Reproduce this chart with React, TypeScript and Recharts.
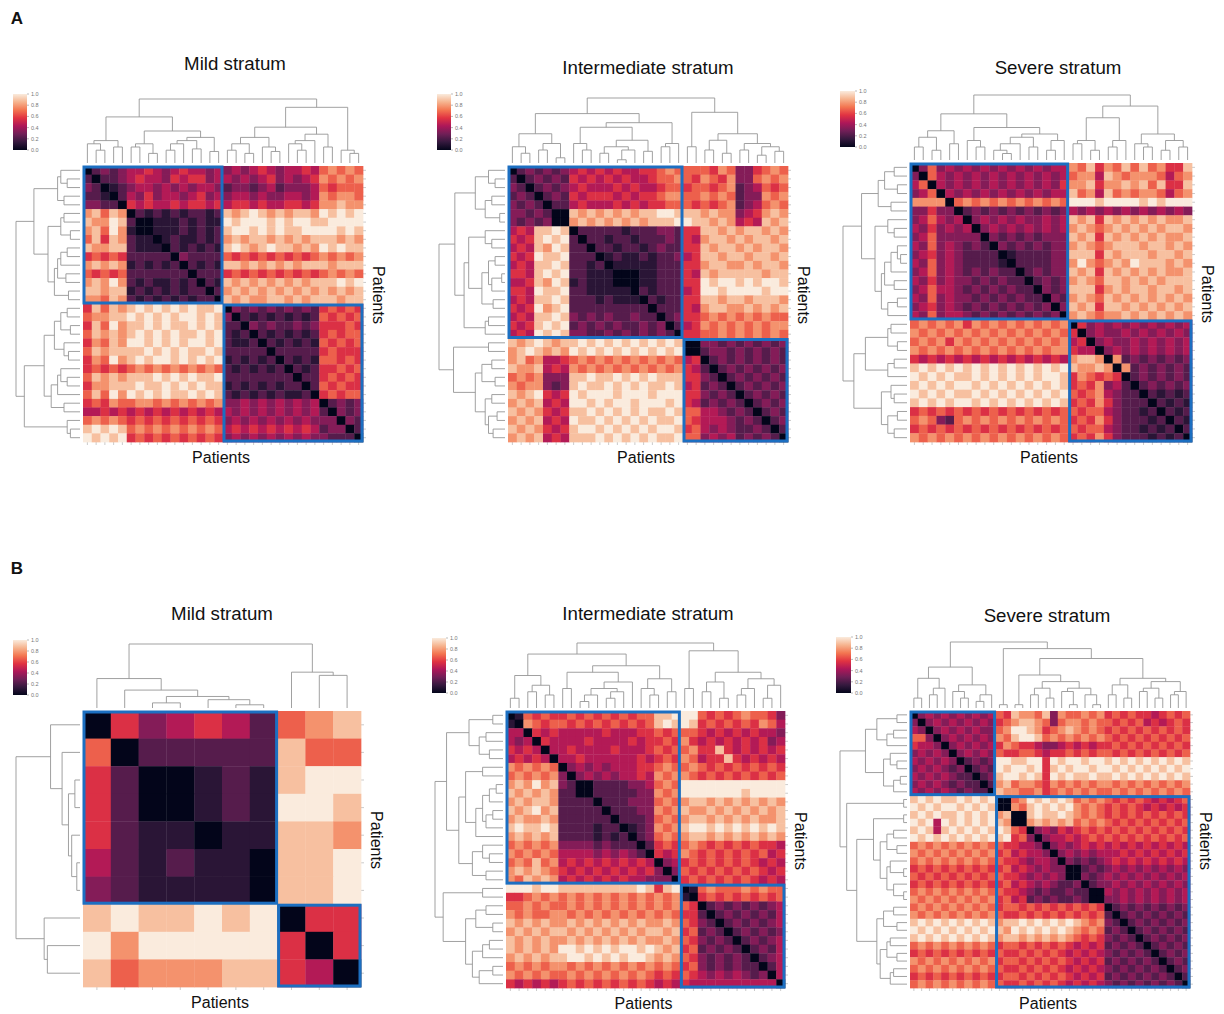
import React, { useMemo } from "react";
import { ComposedChart, Scatter, Line, XAxis, YAxis, BarChart, Bar } from "recharts";

// seaborn "rocket" colormap anchors (0 -> 1)
const ROCKET = ["#03051a", "#35193e", "#701f57", "#ad1759", "#e13342", "#f37651", "#f6b48f", "#faebdd"];
const CBAR_TICKS = [0, 0.2, 0.4, 0.6, 0.8, 1.0];

// each digit is a distance on a 0..9 scale (value = digit / 9)
const mildAMatrix = [
  "02323" + "44543454434" + "34345434454" + "67676",
  "20223" + "45443545534" + "43434534345" + "76767",
  "32012" + "34434343443" + "23323423334" + "65666",
  "22102" + "43534434534" + "34434334434" + "76776",
  "33220" + "54544545545" + "45545445545" + "77877",
  "78687" + "02121212212" + "87898787887" + "98989",
  "87798" + "20011121211" + "98999898998" + "89999",
  "78697" + "10011121212" + "89989898899" + "99898",
  "68587" + "21101211212" + "78788787878" + "88787",
  "87788" + "21110212121" + "89878988787" + "98988",
  "56565" + "22222032222" + "65656565656" + "76767",
  "78787" + "12121202121" + "88787878788" + "87888",
  "65656" + "22222220222" + "56565656565" + "67676",
  "78797" + "21211212021" + "87878787878" + "88989",
  "88788" + "12121212202" + "78787878787" + "87878",
  "77687" + "21212121220" + "87877887878" + "88788",
  "58687" + "89898989889" + "03232323232" + "56565",
  "67788" + "98989899898" + "30212121212" + "65656",
  "58697" + "88989889898" + "22032322323" + "55565",
  "68787" + "89898988989" + "21202121212" + "56566",
  "57687" + "99898989989" + "21120212121" + "65656",
  "68788" + "88989898898" + "22222022222" + "56555",
  "57697" + "89899898989" + "12121202121" + "66565",
  "56565" + "67676767676" + "21212120212" + "55656",
  "68787" + "88898989889" + "22222222022" + "56565",
  "57788" + "89889898988" + "12121212202" + "65655",
  "68697" + "98989889898" + "21212121120" + "56566",
  "56576" + "67767676767" + "33434343434" + "02323",
  "44545" + "45454545454" + "43434343434" + "20323",
  "67676" + "56565656565" + "34343434343" + "33032",
  "89898" + "67676767676" + "45454545454" + "23302",
  "98989" + "56565656565" + "34343434343" + "32220",
];
const mildAGaps = [0.3, 0.2, 0.35, 0.25, 0.72, 0.25, 0.3, 0.15, 0.5, 0.2, 0.3, 0.35, 0.22, 0.4, 0.18, 1.0,
  0.2, 0.3, 0.15, 0.4, 0.25, 0.18, 0.56, 0.3, 0.2, 0.35, 0.45, 0.25, 0.87, 0.2, 0.15];

const interAMatrix = [
  "0232323" + "4545454455676" + "66" + "6576335676",
  "2023232" + "5454545445667" + "65" + "7657336767",
  "3202323" + "4544454544566" + "56" + "6567234656",
  "2320232" + "5455545455677" + "66" + "7676233767",
  "3232022" + "4544454545566" + "65" + "6567234676",
  "3323200" + "8787878788998" + "88" + "7877345787",
  "3232300" + "7878787878889" + "98" + "8787454878",
  "4548898" + "0222221222332" + "55" + "8878788787",
  "5458989" + "2022122122232" + "54" + "7887878878",
  "4548798" + "2202212212322" + "55" + "8788787887",
  "5459889" + "2220121121223" + "45" + "8878878878",
  "4548898" + "2212011111222" + "55" + "7887787887",
  "5548989" + "2211100011222" + "54" + "8788888788",
  "4458798" + "1211100011222" + "55" + "9899898998",
  "5549889" + "2211111021222" + "45" + "9989999899",
  "4548898" + "2221211102122" + "55" + "8878878887",
  "5459789" + "2222222220222" + "54" + "7887787878",
  "4548898" + "3232322322023" + "55" + "6767676766",
  "5458989" + "2323232232302" + "45" + "7676767677",
  "4549898" + "3322323232320" + "55" + "6676767676",
  "8789878" + "8989898989898" + "00" + "3323232323",
  "7898787" + "9898989898989" + "00" + "2332323232",
  "7867445" + "6767676767676" + "45" + "0232323232",
  "8778454" + "7676767676767" + "54" + "2023232323",
  "6767333" + "8898898989888" + "55" + "3202323232",
  "7677323" + "8988989898898" + "45" + "2320232323",
  "8789545" + "9899989998999" + "55" + "3232023232",
  "7878454" + "9989899899989" + "54" + "2323202323",
  "8787545" + "8898989898898" + "66" + "4432320232",
  "7878454" + "9889898989889" + "65" + "4443232023",
  "8787545" + "8998989898998" + "56" + "4343223202",
  "7878454" + "8889898989889" + "66" + "3434232320",
];
const interAGaps = [0.25, 0.15, 0.45, 0.2, 0.3, 0.08, 0.76, 0.3, 0.2, 0.55, 0.15, 0.25, 0.05, 0.2, 0.35, 0.18,
  0.62, 0.25, 0.3, 1.0, 0.25, 0.78, 0.2, 0.35, 0.15, 0.45, 0.2, 0.3, 0.12, 0.25, 0.18];

const severeAMatrix = [
  "036343434343434344" + "76857686867558",
  "306434343434343434" + "67748767776467",
  "460434343434343435" + "77857787868558",
  "346043434343434344" + "86748676776467",
  "777706767676767676" + "99989999898999",
  "335330232323232323" + "43434343434343",
  "346434034343433434" + "87858787878778",
  "435343403434343434" + "78767878787887",
  "346333330323232333" + "87858787878778",
  "436343232032323233" + "78767888788787",
  "345343222201222233" + "88858788878878",
  "436343222210222233" + "79767879888787",
  "346343232322023233" + "87858787878778",
  "435343323232202323" + "78768878787888",
  "346443232323220323" + "88857878878878",
  "436343323232322032" + "78768787878787",
  "345343232323232303" + "87858878787878",
  "436344323232323230" + "78767787878787",
  "676767576767676767" + "05343434343434",
  "767676767676767676" + "50343343434343",
  "676757676767676767" + "45034334343434",
  "767676767676767677" + "54403434343434",
  "545454545454545454" + "78870723232323",
  "898989898989898989" + "87787072323232",
  "989898898989898998" + "57656502323232",
  "898989989898989898" + "56573420232323",
  "989898898989898989" + "65674322021212",
  "898989989898989898" + "56575322202121",
  "565656565656565656" + "65664322120212",
  "676326767676767676" + "56575322212021",
  "565656565656565656" + "65664322121202",
  "767676767676767676" + "56575322212120",
];
const severeAGaps = [0.2, 0.35, 0.15, 0.45, 0.25, 0.71, 0.3, 0.2, 0.5, 0.15, 0.1, 0.25, 0.35, 0.2, 0.4, 0.15,
  0.3, 1.0, 0.25, 0.3, 0.15, 0.65, 0.2, 0.3, 0.83, 0.25, 0.2, 0.4, 0.15, 0.3, 0.2];

const mildBMatrix = [
  "0534542678",
  "6022222866",
  "5200121899",
  "5200121998",
  "5211011887",
  "4212110889",
  "3211110889",
  "8988989055",
  "9799999505",
  "8677788540",
];
const mildBGaps = [0.46, 0.28, 0.08, 0.18, 0.13, 0.05, 1.0, 0.56, 0.51];

const interBMatrix = [
  "016565" + "56565656566" + "889" + "99" + "6565676653",
  "107656" + "65656565656" + "898" + "98" + "5656565764",
  "440545" + "44444544455" + "656" + "66" + "5454545443",
  "434054" + "44454444545" + "565" + "75" + "4545454534",
  "545404" + "45444454445" + "656" + "67" + "5585454545",
  "454540" + "44544444454" + "565" + "76" + "4558545454",
  "767676" + "03434344455" + "676" + "67" + "6565656565",
  "676767" + "30343434454" + "767" + "76" + "5656565656",
  "787978" + "32002222334" + "676" + "99" + "9999999999",
  "878787" + "22002222233" + "767" + "99" + "9999989999",
  "787887" + "22220222333" + "676" + "78" + "8787878787",
  "878978" + "22222022233" + "767" + "87" + "7878787878",
  "787787" + "22222202223" + "676" + "78" + "8787878778",
  "898898" + "22221220123" + "767" + "89" + "9898989898",
  "787878" + "22221212023" + "676" + "78" + "8787878787",
  "676767" + "33332322202" + "565" + "67" + "6565656554",
  "767676" + "44443434320" + "545" + "76" + "5656565645",
  "676867" + "45454545454" + "034" + "56" + "5656565454",
  "787876" + "54545454545" + "303" + "65" + "6565656545",
  "768787" + "45454545443" + "330" + "56" + "5656565454",
  "999899" + "88888888898" + "589" + "01" + "6766676766",
  "556767" + "67676767676" + "767" + "10" + "5656565656",
  "667676" + "67676767676" + "767" + "65" + "0232323234",
  "767667" + "76767676767" + "676" + "55" + "2023232324",
  "878787" + "78787878787" + "787" + "65" + "3202323234",
  "787878" + "87878787878" + "878" + "56" + "2320232323",
  "878787" + "78787878787" + "787" + "65" + "3232023234",
  "878787" + "99898989989" + "878" + "56" + "2323202324",
  "787878" + "89989898998" + "787" + "65" + "3232320234",
  "676767" + "76767676767" + "676" + "56" + "3232322024",
  "767676" + "67676767676" + "565" + "65" + "4343432304",
  "545454" + "56565656565" + "454" + "54" + "4444444440",
];
const interBGaps = [0.15, 0.5, 0.25, 0.35, 0.2, 0.83, 0.3, 0.55, 0.1, 0.2, 0.3, 0.15, 0.25, 0.4, 0.65, 0.3,
  0.2, 0.45, 0.25, 1.0, 0.3, 0.88, 0.25, 0.4, 0.15, 0.55, 0.2, 0.3, 0.45, 0.15, 0.35];

const severeBMatrix = [
  "03434343434" + "65" + "87" + "7683766767" + "56565545656",
  "30343434343" + "56" + "78" + "8763677676" + "65656454565",
  "43034343433" + "67" + "99" + "8756787676" + "56565656565",
  "66303434343" + "76" + "89" + "9867676767" + "65656565656",
  "54430343434" + "57" + "65" + "5433454545" + "56565656565",
  "34343034343" + "65" + "56" + "6545565656" + "65656565656",
  "43434302323" + "99" + "88" + "9959899899" + "89898989898",
  "34343230232" + "98" + "99" + "8958989989" + "98989898989",
  "43434322023" + "89" + "98" + "9859898898" + "89898989898",
  "34343232202" + "78" + "67" + "7657676767" + "76767676767",
  "43434323220" + "87" + "76" + "6756767676" + "67676767676",
  "89898898989" + "00" + "67" + "9898986767" + "65656545456",
  "98989989898" + "00" + "76" + "8989897676" + "56565454545",
  "89898898989" + "78" + "00" + "8988987676" + "56565656565",
  "98949898989" + "87" + "00" + "7878786767" + "65656565656",
  "89848989898" + "98" + "65" + "0343545656" + "56565656565",
  "98989898989" + "89" + "56" + "3034454565" + "65656565656",
  "67676767676" + "65" + "54" + "4303434545" + "45454545454",
  "76767676767" + "56" + "45" + "4430343434" + "44545454545",
  "67676767676" + "65" + "54" + "3443032323" + "45454545454",
  "56565656565" + "56" + "45" + "4343300232" + "34343434343",
  "65656565656" + "65" + "54" + "3434300323" + "43434343434",
  "56565656565" + "56" + "45" + "4343223023" + "34343434343",
  "67676767676" + "65" + "54" + "3232232200" + "43434343434",
  "76767676767" + "56" + "45" + "2323223200" + "33434343434",
  "67676767676" + "56" + "65" + "6565656565" + "02323232323",
  "76767676767" + "65" + "56" + "5656565656" + "20232323232",
  "89898989898" + "78" + "89" + "8989898767" + "32023232323",
  "98989898989" + "87" + "98" + "9898987676" + "23202323232",
  "89898989898" + "78" + "87" + "8787876565" + "32320232323",
  "67676767676" + "56" + "65" + "6565654545" + "23232023232",
  "56565656565" + "65" + "56" + "5656545454" + "32323202323",
  "76767676767" + "56" + "65" + "6565654545" + "23232320232",
  "67676767676" + "65" + "56" + "5656545454" + "32323232023",
  "56565656565" + "56" + "65" + "6565654545" + "23232323202",
  "67676767676" + "65" + "56" + "5656545454" + "32323232320",
];
const severeBGaps = [0.15, 0.45, 0.2, 0.3, 0.62, 0.25, 0.15, 0.35, 0.1, 0.2, 1.0, 0.05, 0.9, 0.05, 0.5,
  0.2, 0.3, 0.15, 0.4, 0.25, 0.05, 0.3, 0.2, 0.05, 0.75, 0.2, 0.35, 0.15, 0.45, 0.25, 0.3, 0.15, 0.4, 0.2, 0.25];

const TITLES = ["Mild stratum", "Intermediate stratum", "Severe stratum"];

// ---------- layout (page pixels) ----------
const PANELS = [
  { title: TITLES[0], matrix: mildAMatrix, gaps: mildAGaps, split: 16, heatX: 83, heatY: 166, heatW: 280, heatH: 276, dendW: 68, dendH: 68, titleX: 235, titleY: 64, cbar: [13, 94, 14, 56] },
  { title: TITLES[1], matrix: interAMatrix, gaps: interAGaps, split: 20, heatX: 508, heatY: 166, heatW: 280, heatH: 276, dendW: 70, dendH: 69, titleX: 648, titleY: 68, cbar: [437, 94, 14, 56] },
  { title: TITLES[2], matrix: severeAMatrix, gaps: severeAGaps, split: 18, heatX: 910, heatY: 163, heatW: 282, heatH: 279, dendW: 68, dendH: 69, titleX: 1058, titleY: 68, cbar: [840, 91, 15, 56] },
  { title: TITLES[0], matrix: mildBMatrix, gaps: mildBGaps, split: 7, heatX: 83, heatY: 711, heatW: 278, heatH: 276, dendW: 68, dendH: 68, titleX: 222, titleY: 614, cbar: [13, 640, 14, 55] },
  { title: TITLES[1], matrix: interBMatrix, gaps: interBGaps, split: 20, heatX: 506, heatY: 711, heatW: 279, heatH: 277, dendW: 72, dendH: 69, titleX: 648, titleY: 614, cbar: [432, 638, 14, 55] },
  { title: TITLES[2], matrix: severeBMatrix, gaps: severeBGaps, split: 11, heatX: 910, heatY: 711, heatW: 280, heatH: 277, dendW: 71, dendH: 70, titleX: 1047, titleY: 616, cbar: [836, 637, 15, 56] },
];

const BLUE = "#1c6fc1";
const DENDRO = "#969696";
const FONT = "'Liberation Sans', Arial, Helvetica, sans-serif";

function rocket(v: number) {
  const t = Math.max(0, Math.min(1, v)) * 7;
  const i = Math.min(6, Math.floor(t));
  const f = t - i;
  const a = ROCKET[i], b = ROCKET[i + 1];
  const ch = (s: string, k: number) => parseInt(s.slice(1 + 2 * k, 3 + 2 * k), 16);
  const mix = [0, 1, 2].map((k) => Math.round(ch(a, k) + (ch(b, k) - ch(a, k)) * f));
  return `rgb(${mix[0]},${mix[1]},${mix[2]})`;
}

type Node = { pos: number; h: number };

// leaves are in display order; gaps[i] is the merge height between leaf i and i+1
function buildTree(gaps: number[]) {
  const maxH = Math.max(...gaps);
  const links: Node[][] = [];
  const walk = (lo: number, hi: number): Node => {
    if (lo === hi) return { pos: lo + 0.5, h: 0 };
    let k = lo;
    for (let i = lo; i < hi; i++) if (gaps[i] > gaps[k]) k = i;
    const a = walk(lo, k);
    const b = walk(k + 1, hi);
    const h = gaps[k] / maxH;
    links.push([a, { pos: a.pos, h }, { pos: b.pos, h }, b]);
    return { pos: (a.pos + b.pos) / 2, h };
  };
  walk(0, gaps.length);
  return links;
}

function HeatPanel({ p }: { p: (typeof PANELS)[number] }) {
  const n = p.matrix.length;
  const AX = 8;
  const dx = (n * p.dendW) / p.heatW;
  const dy = (n * p.dendH) / p.heatH;
  const cw = p.heatW / n;
  const chh = p.heatH / n;

  const cells = useMemo(() => {
    const out: { x: number; y: number; v: number }[] = [];
    p.matrix.forEach((row, i) => {
      for (let j = 0; j < n; j++) {
        const d = parseInt(row.charAt(j), 10);
        if (!isNaN(d)) out.push({ x: j + 0.5, y: i + 0.5, v: d / 9 });
      }
    });
    return out;
  }, [p, n]);

  const { topLine, leftLine } = useMemo(() => {
    const links = buildTree(p.gaps);
    const padY = (3 * n) / p.heatH, edgeY = (1 * n) / p.heatH;
    const padX = (3 * n) / p.heatW, edgeX = (1 * n) / p.heatW;
    const ty = (h: number) => -(padY + h * (dy - padY - edgeY));
    const tx = (h: number) => -(padX + h * (dx - padX - edgeX));
    const top: { x: number; y: number | null }[] = [];
    const left: { x: number; y: number | null }[] = [];
    links.forEach((l) => {
      l.forEach((q) => {
        top.push({ x: q.pos, y: ty(q.h) });
        left.push({ x: tx(q.h), y: q.pos });
      });
      top.push({ x: l[3].pos, y: null });
      left.push({ x: tx(l[3].h), y: null });
    });
    return { topLine: top, leftLine: left };
  }, [p, n, dx, dy]);

  const boxes = [
    { x: p.split / 2, y: p.split / 2, s: p.split },
    { x: (p.split + n) / 2, y: (p.split + n) / 2, s: n - p.split },
  ];
  const ticks = Array.from({ length: n }, (_, i) => i + 0.5);

  return (
    <div style={{ position: "absolute", left: p.heatX - p.dendW, top: p.heatY - p.dendH }}>
      <ComposedChart
        width={p.dendW + p.heatW + AX}
        height={p.dendH + p.heatH + AX}
        margin={{ top: 0, right: 0, bottom: 0, left: 0 }}
      >
        <XAxis
          type="number"
          dataKey="x"
          domain={[-dx, n]}
          ticks={ticks}
          tickFormatter={() => ""}
          tickSize={3}
          height={AX}
          axisLine={false}
          tickLine={{ stroke: "#b5b5b5", strokeWidth: 0.7 }}
          interval={0}
        />
        <YAxis
          type="number"
          dataKey="y"
          domain={[-dy, n]}
          reversed
          orientation="right"
          ticks={ticks}
          tickFormatter={() => ""}
          tickSize={3}
          width={AX}
          axisLine={false}
          tickLine={{ stroke: "#b5b5b5", strokeWidth: 0.7 }}
          interval={0}
        />
        <Line data={topLine} dataKey="y" stroke={DENDRO} strokeWidth={0.9} dot={false} activeDot={false} isAnimationActive={false} />
        <Line data={leftLine} dataKey="y" stroke={DENDRO} strokeWidth={0.9} dot={false} activeDot={false} isAnimationActive={false} />
        <Scatter
          data={cells}
          isAnimationActive={false}
          shape={(props: any) => {
            const v = props.payload ? props.payload.v : props.v;
            return (
              <rect
                x={props.cx - cw / 2}
                y={props.cy - chh / 2}
                width={cw + 0.35}
                height={chh + 0.35}
                fill={rocket(v)}
              />
            );
          }}
        />
        <Scatter
          data={boxes}
          isAnimationActive={false}
          shape={(props: any) => {
            const s = props.payload ? props.payload.s : props.s;
            return (
              <rect
                x={props.cx - (s * cw) / 2 + 1}
                y={props.cy - (s * chh) / 2 + 1}
                width={s * cw - 2}
                height={s * chh - 2}
                fill="none"
                stroke={BLUE}
                strokeWidth={3}
              />
            );
          }}
        />
      </ComposedChart>
    </div>
  );
}

const CBAR_DATA = [{ name: "c", v: 1 }];

function ColorBar({ box, id }: { box: number[]; id: string }) {
  const [x, y, w, h] = box;
  return (
    <div style={{ position: "absolute", left: x, top: y - 3 }}>
      <BarChart width={w + 18} height={h + 6} data={CBAR_DATA} margin={{ top: 3, right: 0, bottom: 3, left: 0 }} barCategoryGap={0}>
        <defs>
          <linearGradient id={id} x1="0" y1="1" x2="0" y2="0">
            {ROCKET.map((c, i) => (
              <stop key={i} offset={i / 7} stopColor={c} />
            ))}
          </linearGradient>
        </defs>
        <XAxis dataKey="name" hide />
        <YAxis
          orientation="right"
          type="number"
          domain={[0, 1]}
          ticks={CBAR_TICKS}
          width={18}
          tickSize={2}
          axisLine={false}
          tickLine={{ stroke: "#777", strokeWidth: 0.5 }}
          tick={{ fontSize: 5.5, fill: "#777", fontFamily: FONT }}
          tickFormatter={(v: number) => v.toFixed(1)}
          interval={0}
        />
        <Bar dataKey="v" fill={`url(#${id})`} isAnimationActive={false} />
      </BarChart>
    </div>
  );
}

function Text({ x, y, size, children, bold, rotate }: any) {
  return (
    <div
      style={{
        position: "absolute",
        left: x,
        top: y,
        transform: `translate(-50%, -50%)${rotate ? " rotate(90deg)" : ""}`,
        fontSize: size,
        fontWeight: bold ? 700 : 400,
        whiteSpace: "nowrap",
        color: "#111",
        lineHeight: 1,
      }}
    >
      {children}
    </div>
  );
}

export default function App() {
  return (
    <div style={{ position: "absolute", left: 0, top: 0, width: 1224, height: 1014, background: "#fff", fontFamily: FONT, overflow: "hidden" }}>
      <Text x={17} y={18} size={17} bold>A</Text>
      <Text x={17} y={568} size={17} bold>B</Text>
      {PANELS.map((p, i) => (
        <React.Fragment key={i}>
          <Text x={p.titleX} y={p.titleY} size={18.7}>{p.title}</Text>
          <ColorBar box={p.cbar} id={`rocket-grad-${i}`} />
          <HeatPanel p={p} />
          <Text x={p.heatX + p.heatW / 2 - 2} y={p.heatY + p.heatH + 16} size={16}>Patients</Text>
          <Text x={p.heatX + p.heatW + 15} y={p.heatY + p.heatH / 2 - 9} size={16} rotate>Patients</Text>
        </React.Fragment>
      ))}
    </div>
  );
}
